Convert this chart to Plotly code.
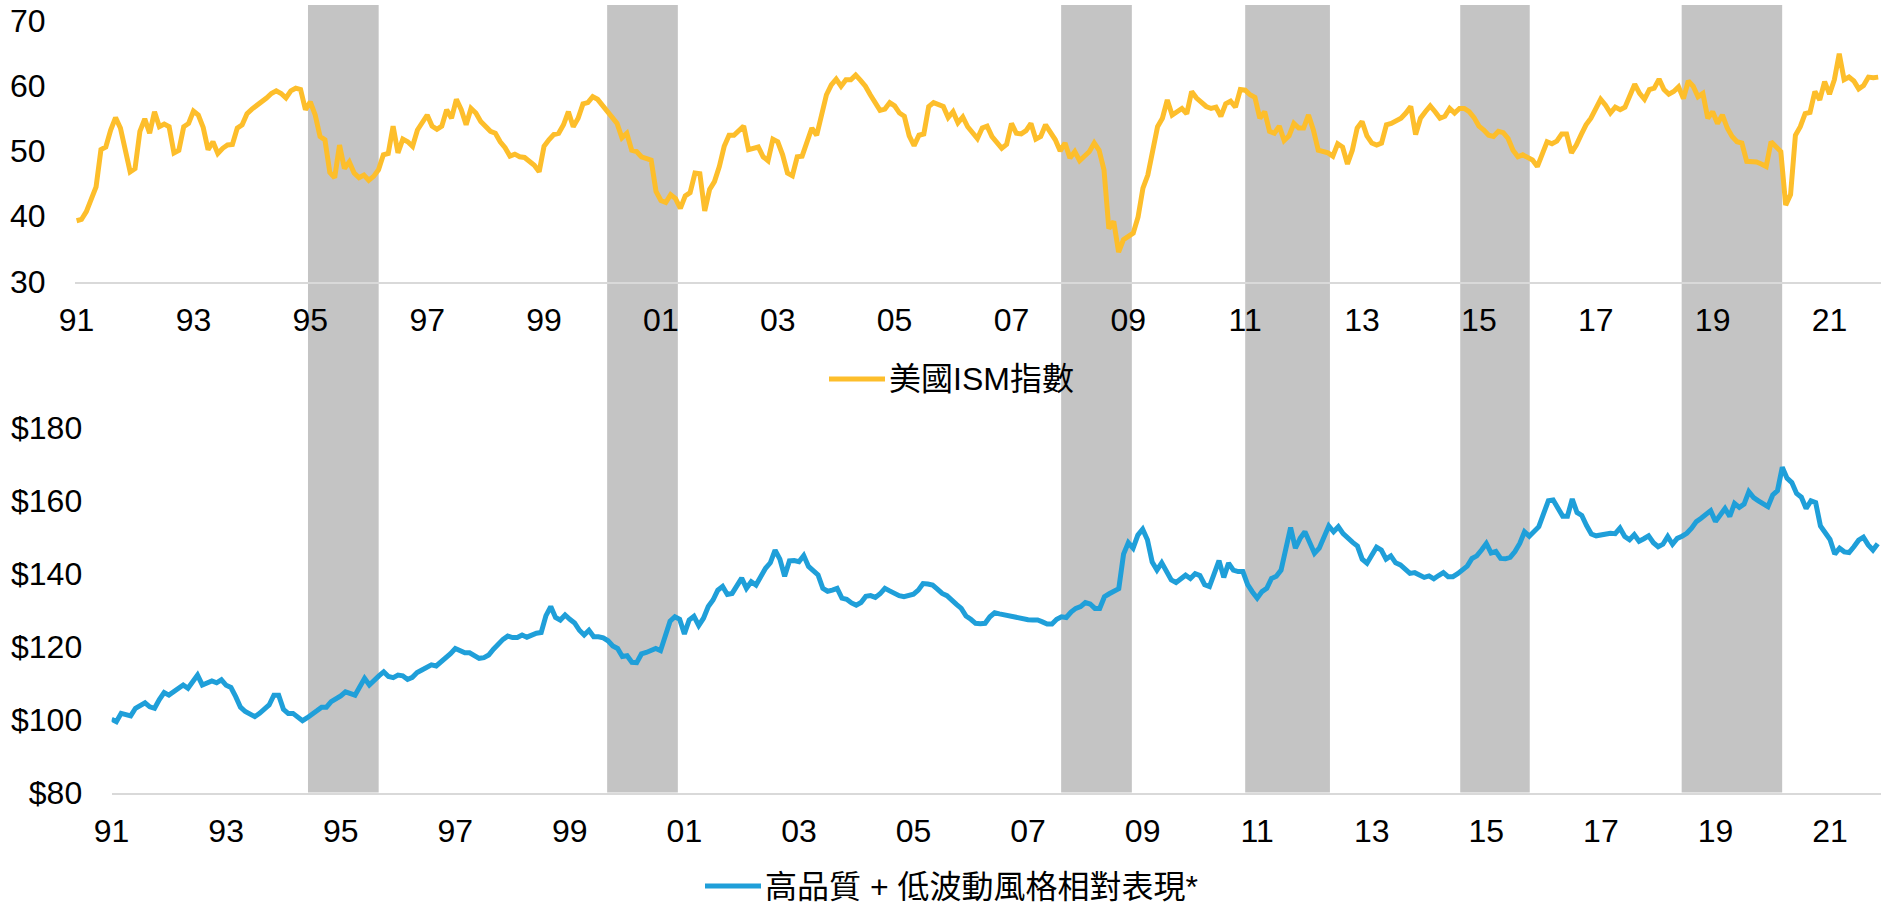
import numpy as np
import plotly.graph_objects as go

W, H = 1881, 907

# ---------------- data (monthly, Jan 1991 - Nov 2021) ----------------
ism_values = [
    39.3, 39.5, 40.7, 42.5, 44.5, 50.2, 50.6, 53.2, 55.1, 53.5, 49.9, 46.8,   # 1991
    47.3, 53.0, 54.9, 52.7, 56.0, 53.7, 54.1, 53.7, 49.7, 50.1, 53.7, 54.2,   # 1992
    56.1, 55.5, 53.6, 50.2, 51.4, 49.6, 50.4, 50.9, 51.0, 53.5, 54.0, 55.7,   # 1993
    56.4, 56.9, 57.4, 58.1, 58.8, 59.2, 58.8, 58.1, 59.2, 59.6, 59.4, 56.3,   # 1994
    57.5, 55.5, 52.2, 51.7, 46.7, 45.9, 50.9, 47.3, 48.3, 46.6, 45.9, 46.3,   # 1995
    45.5, 46.1, 47.1, 49.4, 49.6, 53.8, 49.7, 51.8, 51.4, 50.7, 53.2, 54.5,   # 1996
    55.5, 53.8, 53.3, 53.8, 56.3, 55.0, 57.9, 56.3, 54.0, 56.5, 55.8, 54.5,   # 1997
    53.7, 53.0, 52.7, 51.4, 50.5, 49.2, 49.5, 49.1, 49.0, 48.4, 47.8, 46.8,   # 1998
    50.7, 51.7, 52.5, 52.7, 54.0, 56.0, 53.7, 55.0, 57.2, 57.4, 58.3, 57.9,   # 1999
    57.0, 55.9, 55.0, 54.2, 52.0, 52.7, 50.1, 49.9, 49.1, 48.8, 48.6, 43.8,   # 2000
    42.4, 42.1, 43.3, 42.7, 41.2, 43.1, 43.6, 46.6, 46.5, 40.8, 44.1, 45.3,   # 2001
    47.6, 50.7, 52.4, 52.4, 53.2, 53.8, 50.2, 50.4, 50.6, 49.1, 48.5, 51.8,   # 2002
    51.4, 49.4, 46.6, 46.2, 49.1, 49.2, 51.2, 53.5, 52.4, 55.2, 58.6, 60.1,   # 2003
    61.0, 59.9, 60.9, 60.9, 61.6, 60.8, 59.9, 58.6, 57.4, 56.2, 56.4, 57.4,   # 2004
    56.9, 55.8, 55.3, 52.3, 50.8, 52.4, 52.6, 56.8, 57.4, 57.0, 56.8, 55.1,   # 2005
    56.0, 54.3, 55.2, 53.7, 52.8, 51.9, 53.5, 53.8, 52.2, 51.4, 50.4, 51.0,   # 2006
    54.2, 52.7, 52.6, 53.1, 54.2, 51.8, 52.2, 54.0, 52.9, 51.7, 50.0, 51.2,   # 2007
    48.9, 49.9, 48.5, 49.1, 49.9, 51.2, 50.1, 47.1, 38.1, 39.2, 34.5, 36.4,   # 2008
    36.9, 37.4, 39.9, 44.3, 46.3, 49.9, 53.7, 55.0, 57.8, 55.5, 56.0, 56.5,   # 2009
    55.7, 59.1, 58.1, 57.5, 56.8, 56.5, 56.7, 55.3, 57.2, 57.6, 56.7, 59.4,   # 2010
    59.3, 58.6, 58.2, 55.0, 56.0, 53.0, 52.7, 53.8, 51.6, 52.3, 54.2, 53.5,   # 2011
    53.5, 55.5, 53.2, 50.1, 49.9, 49.7, 49.2, 51.1, 50.6, 48.0, 50.1, 53.5,   # 2012
    54.5, 52.3, 51.2, 50.9, 51.2, 54.0, 54.2, 54.6, 55.0, 55.8, 56.8, 52.5,   # 2013
    55.0, 56.0, 56.9, 56.0, 55.0, 55.3, 56.5, 55.8, 56.5, 56.5, 56.0, 55.1,   # 2014
    53.8, 53.2, 52.4, 52.2, 53.0, 52.8, 51.9, 50.1, 49.1, 49.4, 49.0, 48.6,   # 2015
    47.6, 49.4, 51.4, 51.1, 51.5, 52.6, 52.6, 49.7, 50.9, 52.5, 54.0, 55.0,   # 2016
    56.5, 57.9, 57.0, 55.8, 56.7, 56.3, 56.7, 58.6, 60.2, 58.8, 57.9, 59.4,   # 2017
    59.6, 61.0, 59.4, 58.7, 59.1, 59.8, 58.0, 60.7, 59.9, 58.3, 58.8, 55.0,   # 2018
    56.0, 54.2, 55.5, 53.5, 52.2, 51.4, 51.2, 48.4, 48.4, 48.3, 48.0, 47.6,   # 2019
    51.4, 50.6, 49.9, 41.7, 43.3, 52.4, 53.7, 55.7, 55.9, 59.1, 57.8, 60.6,   # 2020
    58.7, 60.9, 64.9, 60.9, 61.3, 60.7, 59.5, 60.0, 61.3, 61.2, 61.3,         # 2021
]

quality_values = [
    100.1, 99.4, 101.7, 101.2, 101.0, 103.1, 103.8, 104.6, 103.5, 103.1, 105.5, 107.4,   # 1991
    106.7, 107.5, 108.3, 109.5, 108.6, 110.5, 112.2, 109.5, 110.0, 110.6, 110.1, 110.9,  # 1992
    109.4, 108.8, 106.3, 103.4, 102.2, 101.5, 100.8, 101.7, 102.8, 104.0, 106.7, 106.7,  # 1993
    102.8, 101.7, 101.7, 100.8, 99.7, 100.5, 101.3, 102.4, 103.4, 103.4, 104.9, 105.6,   # 1994
    106.5, 107.6, 107.2, 106.7, 109.0, 111.3, 109.5, 110.9, 112.0, 113.1, 111.8, 111.5,  # 1995
    112.2, 112.0, 111.0, 111.6, 112.9, 113.6, 114.2, 115.0, 114.7, 115.7, 116.8, 118.1,  # 1996
    119.5, 118.8, 118.3, 118.3, 117.5, 116.8, 117.0, 117.7, 119.3, 120.9, 122.0, 122.9,  # 1997
    122.5, 122.5, 123.2, 122.6, 123.2, 123.7, 123.9, 128.5, 131.0, 128.0, 127.3, 128.7,  # 1998
    127.5, 126.5, 124.5, 123.2, 124.5, 122.7, 122.7, 122.4, 121.6, 120.2, 119.5, 117.3,  # 1999
    117.5, 115.7, 115.6, 118.0, 118.4, 118.9, 119.5, 118.9, 123.5, 127.0, 128.2, 127.5,  # 2000
    123.5, 127.3, 128.3, 125.8, 127.8, 131.0, 132.8, 135.5, 136.5, 134.3, 134.6, 136.8,  # 2001
    138.8, 136.0, 137.8, 136.9, 139.5, 141.5, 143.0, 146.5, 144.0, 139.3, 143.5, 143.6,  # 2002
    143.3, 145.0, 142.0, 141.0, 139.7, 136.0, 135.2, 135.5, 136.0, 133.3, 133.0, 132.0,  # 2003
    131.4, 132.1, 133.8, 134.0, 133.5, 134.5, 136.0, 135.3, 134.6, 134.0, 133.7, 134.0,  # 2004
    134.4, 135.5, 137.3, 137.2, 136.9, 135.8, 134.6, 134.0, 133.0, 131.6, 130.5, 128.4,  # 2005
    127.5, 126.4, 126.3, 126.4, 128.2, 129.3, 129.0, 128.7, 128.6, 128.4, 128.0, 127.5,  # 2006
    127.4, 127.3, 127.3, 126.8, 126.2, 126.2, 127.5, 128.2, 128.0, 129.5, 130.5, 131.0,  # 2007
    132.1, 131.7, 130.5, 130.5, 133.7, 134.5, 135.2, 135.9, 145.4, 148.5, 147.0, 150.6,  # 2008
    152.2, 149.3, 143.2, 141.0, 143.0, 140.5, 138.3, 137.6, 138.8, 139.6, 138.7, 140.0,  # 2009
    139.5, 137.0, 136.5, 140.0, 143.6, 139.0, 142.9, 141.0, 140.6, 140.6, 137.0, 135.0,  # 2010
    133.3, 135.1, 136.0, 138.7, 139.3, 141.0, 146.5, 152.7, 147.0, 149.7, 151.5, 148.2,  # 2011
    145.6, 147.0, 150.0, 153.1, 151.5, 152.9, 151.0, 149.6, 148.6, 147.6, 144.0, 142.9,  # 2012
    145.0, 147.3, 146.5, 144.0, 144.9, 143.0, 142.4, 141.2, 140.1, 140.3, 139.5, 139.0,  # 2013
    139.4, 138.6, 139.5, 140.3, 139.2, 139.2, 140.0, 141.0, 142.1, 144.2, 144.9, 146.5,  # 2014
    148.3, 145.7, 146.1, 144.2, 144.1, 144.5, 146.1, 148.3, 151.5, 150.3, 151.5, 152.9,  # 2015
    156.5, 160.0, 160.2, 158.0, 155.8, 155.8, 160.5, 156.8, 156.0, 153.2, 150.9, 150.4,  # 2016
    150.6, 151.1, 151.1, 151.0, 152.5, 150.2, 149.3, 150.7, 148.9, 149.6, 150.4, 148.5,  # 2017
    147.4, 148.1, 150.2, 148.1, 149.7, 150.3, 151.1, 152.5, 154.3, 155.2, 156.3, 157.3,  # 2018
    154.3, 156.0, 157.9, 155.7, 159.3, 158.2, 159.1, 162.5, 160.9, 160.0, 159.2, 158.4,  # 2019
    161.6, 162.8, 169.2, 166.2, 165.0, 162.0, 161.0, 157.9, 160.0, 159.5, 153.1, 151.1,  # 2020
    149.4, 145.4, 147.0, 146.0, 145.8, 147.4, 149.2, 150.0, 147.9, 146.5, 148.2,         # 2021
]

start_year = 1991
tick_years = list(range(1991, 2022, 2))
tick_text = ["91", "93", "95", "97", "99", "01", "03", "05", "07", "09",
             "11", "13", "15", "17", "19", "21"]
ism_ticks = [30, 40, 50, 60, 70]
quality_ticks = [80, 100, 120, 140, 160, 180]
quality_tick_text = ["$80", "$100", "$120", "$140", "$160", "$180"]

# shaded periods (decimal years, top-axis time scale)
shade_start = [1994.96, 2000.08, 2007.85, 2011.00, 2014.68, 2018.47]
shade_end = [1996.17, 2001.29, 2009.06, 2012.45, 2015.87, 2020.19]

ism_name = "美國ISM指數"
quality_name = "高品質 + 低波動風格相對表現*"

ORANGE = "#FDBE2B"
BLUE = "#1F9FD9"
GRAY = "#C4C4C4"
AXIS_GRAY = "#D9D9D9"
FONT = "Arial, 'Liberation Sans', 'Noto Sans CJK TC', sans-serif"
FS = 32

# ---------------- geometry (pixels) ----------------
def px(x):
    return x / W

def py(y):
    return 1 - y / H

top_left, top_y30, top_top = 75.0, 281.5, 5.0
top_x0, top_ppy = 76.6, 58.43          # px of Jan-1991, px per year
top_ppu = 6.53                           # px per index point
bot_left, bot_y80 = 111.6, 792.5
bot_x0, bot_ppy = 111.6, 57.28
bot_ppu = 3.646
bot_top = 300.0
XTICKLEN = 9
YTICKLEN = 22

x_months = start_year + np.arange(len(ism_values)) / 12.0
x_months_q = start_year + np.arange(len(quality_values)) / 12.0

fig = go.Figure()
fig.add_trace(go.Scatter(x=x_months, y=ism_values, mode="lines", name=ism_name,
                         line=dict(color=ORANGE, width=5), xaxis="x", yaxis="y",
                         showlegend=False))
fig.add_trace(go.Scatter(x=x_months_q, y=quality_values, mode="lines", name=quality_name,
                         line=dict(color=BLUE, width=5), xaxis="x2", yaxis="y2",
                         showlegend=False))

shapes = []
for s, e in zip(shade_start, shade_end):
    shapes.append(dict(type="rect", xref="x", yref="paper", x0=s, x1=e,
                       y0=py(bot_y80), y1=py(top_top), fillcolor=GRAY,
                       line=dict(width=0), layer="below"))

# legend samples
shapes.append(dict(type="line", xref="paper", yref="paper", x0=px(829), x1=px(885),
                   y0=py(379), y1=py(379), line=dict(color=ORANGE, width=5)))
shapes.append(dict(type="line", xref="paper", yref="paper", x0=px(705), x1=px(761),
                   y0=py(886), y1=py(886), line=dict(color=BLUE, width=5)))

annotations = [
    dict(xref="paper", yref="paper", x=px(887), y=py(379), xanchor="left", yanchor="middle",
         text=ism_name, showarrow=False, font=dict(family=FONT, size=FS, color="#000")),
    dict(xref="paper", yref="paper", x=px(763), y=0.0, xanchor="left", yanchor="bottom",
         text=quality_name, showarrow=False, font=dict(family=FONT, size=FS, color="#000")),
]

tickfont = dict(family=FONT, size=FS, color="#000")

fig.update_layout(
    width=W, height=H, margin=dict(l=0, r=0, t=0, b=0),
    paper_bgcolor="white", plot_bgcolor="rgba(0,0,0,0)",
    showlegend=False, shapes=shapes, annotations=annotations,
    xaxis=dict(domain=[px(top_left), 1.0],
               range=[start_year + (top_left - top_x0) / top_ppy,
                      start_year + (W - top_x0) / top_ppy],
               tickmode="array", tickvals=tick_years, ticktext=tick_text,
               tickfont=tickfont, showgrid=False, zeroline=False,
               showline=True, linecolor=AXIS_GRAY, linewidth=2,
               ticks="outside", ticklen=XTICKLEN, tickcolor="rgba(0,0,0,0)",
               anchor="y", automargin=False, fixedrange=True),
    yaxis=dict(domain=[py(top_y30), py(top_top)],
               range=[30, 30 + (top_y30 - top_top) / top_ppu],
               tickmode="array", tickvals=ism_ticks,
               tickfont=tickfont, showgrid=False, zeroline=False, showline=False,
               ticks="outside", ticklen=YTICKLEN, tickcolor="rgba(0,0,0,0)",
               anchor="x", automargin=False, fixedrange=True),
    xaxis2=dict(domain=[px(bot_left), 1.0],
                range=[start_year + (bot_left - bot_x0) / bot_ppy,
                       start_year + (W - bot_x0) / bot_ppy],
                tickmode="array", tickvals=tick_years, ticktext=tick_text,
                tickfont=tickfont, showgrid=False, zeroline=False,
                showline=True, linecolor=AXIS_GRAY, linewidth=2,
                ticks="outside", ticklen=XTICKLEN, tickcolor="rgba(0,0,0,0)",
                anchor="y2", automargin=False, fixedrange=True),
    yaxis2=dict(domain=[py(bot_y80), py(bot_top)],
                range=[80, 80 + (bot_y80 - bot_top) / bot_ppu],
                tickmode="array", tickvals=quality_ticks, ticktext=quality_tick_text,
                tickfont=tickfont, showgrid=False, zeroline=False, showline=False,
                ticks="outside", ticklen=YTICKLEN, tickcolor="rgba(0,0,0,0)",
                anchor="x2", automargin=False, fixedrange=True),
)

fig.write_html("out.html")
